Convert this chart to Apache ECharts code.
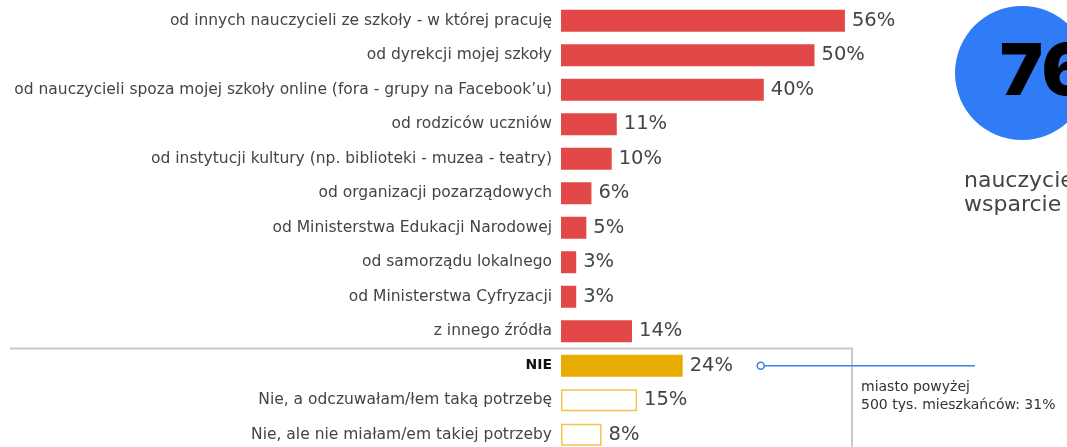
<!DOCTYPE html>
<html>
<head>
<meta charset="utf-8">
<script src="https://cdn.jsdelivr.net/npm/echarts@6/dist/echarts.min.js"></script>
<style>
html,body{margin:0;padding:0;background:#fff;}
#chart{width:1067px;height:447px;}
</style>
</head>
<body>
<div id="chart"></div>
<script>
// ---- data ----
const sourceCategories = [
  'od innych nauczycieli ze szkoły - w której pracuję',
  'od dyrekcji mojej szkoły',
  'od nauczycieli spoza mojej szkoły online (fora - grupy na Facebook\u2019u)',
  'od rodziców uczniów',
  'od instytucji kultury (np. biblioteki - muzea - teatry)',
  'od organizacji pozarządowych',
  'od Ministerstwa Edukacji Narodowej',
  'od samorządu lokalnego',
  'od Ministerstwa Cyfryzacji',
  'z innego źródła'
];
const sourceValues = [56, 50, 40, 11, 10, 6, 5, 3, 3, 14];
const noCategory = 'NIE';
const noValue = 24;
const noReasonCategories = [
  'Nie, a odczuwałam/łem taką potrzebę',
  'Nie, ale nie miałam/em takiej potrzeby'
];
const noReasonValues = [15, 8];
const highlightNumber = '76%';
const highlightLines = ['nauczycieli', 'wsparcie'];
const annotationLines = ['miasto powyżej', '500 tys. mieszkańców: 31%'];

// ---- build ----
const RED = '#e24848', GOLD = '#e8ab00', GOLD_LIGHT = '#f0c64a';
const categories = [...sourceCategories, noCategory, ...noReasonCategories];
const seriesData = [
  ...sourceValues.map(v => ({ value: v, itemStyle: { color: RED } })),
  { value: noValue, itemStyle: { color: GOLD } },
  ...noReasonValues.map(v => ({ value: v, itemStyle: { color: '#ffffff', borderColor: GOLD_LIGHT, borderWidth: 1.5 } }))
];

const chart = echarts.init(document.getElementById('chart'), null, { renderer: 'canvas' });
const option = {
  animation: false,
  backgroundColor: '#ffffff',
  grid: { left: 561, width: 507, top: 3.5, height: 448.5, containLabel: false, outerBoundsMode: 'none' },
  xAxis: { type: 'value', min: 0, max: 100, show: false },
  yAxis: {
    type: 'category', inverse: true, data: categories,
    axisLine: { show: false }, axisTick: { show: false },
    axisLabel: {
      margin: 9, color: '#444', fontFamily: 'DejaVu Sans', fontSize: 15.5,
      formatter: v => v === noCategory ? '{b|' + v + '}' : v,
      rich: { b: { fontWeight: 'bold', color: '#111', fontFamily: 'DejaVu Sans', fontSize: 14 } }
    }
  },
  series: [{
    type: 'bar', barWidth: 22, data: seriesData,
    label: {
      show: true, position: 'right', distance: 7,
      formatter: p => p.value + '%',
      color: '#454545', fontFamily: 'DejaVu Sans', fontSize: 19.5
    }
  }]
};
chart.setOption(option);

// annotations, anchored to the axis positions
const yRow = i => chart.convertToPixel({ yAxisIndex: 0 }, categories[i]);
const noIdx = sourceCategories.length;
const boxY = (yRow(noIdx - 1) + yRow(noIdx)) / 2;
const noY = yRow(noIdx);
const markerX = chart.convertToPixel({ xAxisIndex: 0 }, noValue) + 78;

chart.setOption({
  graphic: [
    { type: 'polyline', shape: { points: [[10, boxY], [852, boxY], [852, 470]] },
      style: { stroke: '#c9c9c9', lineWidth: 2, fill: null } },
    { type: 'line', shape: { x1: markerX, y1: noY, x2: 975, y2: noY },
      style: { stroke: '#3d7fe6', lineWidth: 1.5 }, z: 10 },
    { type: 'circle', shape: { cx: markerX, cy: noY, r: 3.5 },
      style: { fill: '#fff', stroke: '#3d7fe6', lineWidth: 1.5 }, z: 11 },
    { type: 'text', x: 861, y: 378,
      style: { text: annotationLines.join('\n'), fill: '#333', font: '14px "DejaVu Sans"', lineHeight: 18 } },
    { type: 'circle', shape: { cx: 1022, cy: 73, r: 67 }, style: { fill: '#2f7cf6' } },
    { type: 'text', x: 1000, y: 73,
      style: { text: highlightNumber, fill: '#000', font: '900 72px Inter', verticalAlign: 'middle' } },
    { type: 'text', x: 964, y: 169,
      style: { text: highlightLines.join('\n'), fill: '#444', font: '22px "DejaVu Sans"', lineHeight: 24 } }
  ]
});
</script>
</body>
</html>
